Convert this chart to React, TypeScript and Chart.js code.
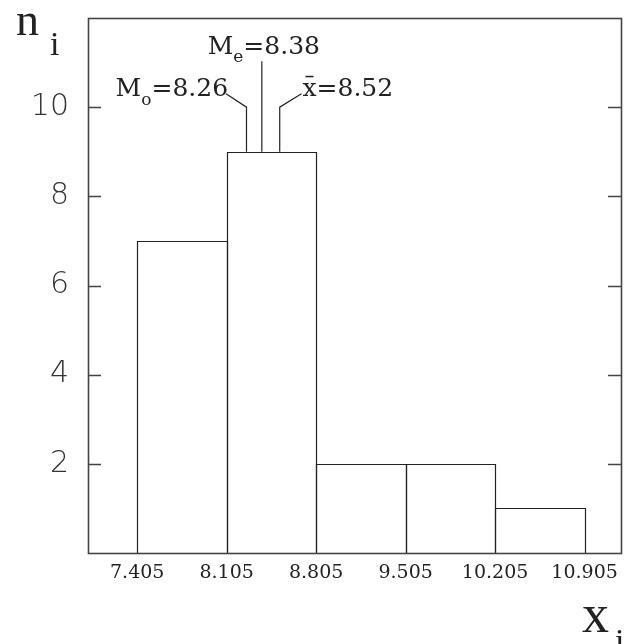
import React, { useEffect, useRef } from "react";
import { Chart, registerables } from "chart.js";

Chart.register(...registerables);

const binEdges = [7.405, 8.105, 8.805, 9.505, 10.205, 10.905];
const counts = [7, 9, 2, 2, 1];
const yTicks = [2, 4, 6, 8, 10];
const xRange = [7.02, 11.19];
const yRange = [0, 12];

const modeValue = 8.26;
const medianValue = 8.38;
const meanValue = 8.52;

const modeLeader = [
  { x: modeValue, y: 9 },
  { x: modeValue, y: 10 },
  { x: 8.1, y: 10.3 },
];
const medianLeader = [
  { x: medianValue, y: 9 },
  { x: medianValue, y: 11.03 },
];
const meanLeader = [
  { x: meanValue, y: 9 },
  { x: meanValue, y: 10 },
  { x: 8.69, y: 10.3 },
];

const LINE = "#222";
const FRAME = "#444";
const SANS = "'DejaVu Sans', sans-serif";
const SERIF = "'DejaVu Serif', serif";
const TITLE_SERIF = "'Liberation Serif', serif";

function drawSubLabel(
  ctx: CanvasRenderingContext2D,
  main: string,
  sub: string,
  rest: string,
  x: number,
  y: number,
  align: "left" | "right" | "center",
  subDrop: number,
  bar = false
) {
  const big = `25px ${SERIF}`;
  const small = `17px ${SERIF}`;
  ctx.font = big;
  const w1 = ctx.measureText(main).width;
  ctx.font = small;
  const w2 = ctx.measureText(sub).width;
  ctx.font = big;
  const w3 = ctx.measureText(rest).width;
  const total = w1 + w2 + w3;
  let x0 = x;
  if (align === "right") x0 = x - total;
  if (align === "center") x0 = x - total / 2;
  ctx.textAlign = "left";
  ctx.textBaseline = "alphabetic";
  ctx.fillStyle = LINE;
  ctx.font = big;
  ctx.fillText(main, x0, y);
  if (bar) {
    ctx.fillRect(x0 + 3, y - 20, w1 - 6, 1.5);
  }
  ctx.font = small;
  ctx.fillText(sub, x0 + w1, y + subDrop);
  ctx.font = big;
  ctx.fillText(rest, x0 + w1 + w2, y);
}

const decorPlugin = {
  id: "decor",
  afterDatasetsDraw(chart: any) {
    const ctx = chart.ctx as CanvasRenderingContext2D;
    const meta = chart.getDatasetMeta(0);
    ctx.save();
    ctx.strokeStyle = LINE;
    ctx.lineWidth = 1.2;
    meta.data.forEach((bar: any) => {
      const p = bar.getProps(["x", "y", "base", "width"], true);
      const l = Math.round(p.x - p.width / 2) + 0.5;
      const r = Math.round(p.x + p.width / 2) + 0.5;
      const t = Math.round(p.y) + 0.5;
      const b = Math.round(p.base) + 0.5;
      ctx.beginPath();
      ctx.moveTo(l, b);
      ctx.lineTo(l, t);
      ctx.lineTo(r, t);
      ctx.lineTo(r, b);
      ctx.stroke();
    });
    ctx.restore();
  },
  afterDraw(chart: any) {
    const ctx = chart.ctx as CanvasRenderingContext2D;
    const { left, right, top, bottom } = chart.chartArea;
    const xs = chart.scales.x;
    const ys = chart.scales.y;
    ctx.save();
    ctx.strokeStyle = FRAME;
    ctx.lineWidth = 1.6;
    ctx.strokeRect(Math.round(left) + 0.5, Math.round(top) + 0.5, Math.round(right - left), Math.round(bottom - top));
    ctx.beginPath();
    yTicks.forEach((v) => {
      const py = Math.round(ys.getPixelForValue(v)) + 0.5;
      ctx.moveTo(left, py);
      ctx.lineTo(left + 13, py);
      ctx.moveTo(right, py);
      ctx.lineTo(right - 13, py);
    });
    ctx.stroke();

    // stat labels
    const mEnd = modeLeader[modeLeader.length - 1];
    drawSubLabel(ctx, "M", "o", "=8.26", xs.getPixelForValue(mEnd.x) + 2, ys.getPixelForValue(mEnd.y) + 2, "right", 9);
    const meEnd = medianLeader[medianLeader.length - 1];
    drawSubLabel(ctx, "M", "e", "=8.38", xs.getPixelForValue(meEnd.x) + 2, ys.getPixelForValue(meEnd.y) - 7, "center", 8);
    const aEnd = meanLeader[meanLeader.length - 1];
    drawSubLabel(ctx, "x", "", "=8.52", xs.getPixelForValue(aEnd.x) + 1, ys.getPixelForValue(aEnd.y) + 2, "left", 0, true);

    // axis titles
    ctx.fillStyle = LINE;
    ctx.textAlign = "left";
    ctx.textBaseline = "alphabetic";
    ctx.font = `46px ${TITLE_SERIF}`;
    ctx.fillText("n", 16, 35);
    ctx.font = `34px ${TITLE_SERIF}`;
    ctx.fillText("i", 50, 55);
    ctx.font = `54px ${TITLE_SERIF}`;
    ctx.fillText("x", 582, 632);
    ctx.font = `34px ${TITLE_SERIF}`;
    ctx.fillText("i", 615, 652);
    ctx.restore();
  },
};

export default function App() {
  const ref = useRef<HTMLCanvasElement | null>(null);
  useEffect(() => {
    if (!ref.current) return;
    const centers = counts.map((_, i) => (binEdges[i] + binEdges[i + 1]) / 2);
    const chart = new Chart(ref.current, {
      type: "bar",
      data: {
        datasets: [
          {
            type: "bar",
            data: centers.map((c, i) => ({ x: c, y: counts[i] })),
            backgroundColor: "rgba(255,255,255,0)",
            borderWidth: 0,
            barPercentage: 1,
            categoryPercentage: 1,
            order: 2,
          } as any,
          ...[modeLeader, medianLeader, meanLeader].map((d) => ({
            type: "line",
            data: d,
            borderColor: LINE,
            borderWidth: 1.2,
            pointRadius: 0,
            fill: false,
            tension: 0,
            order: 1,
          })),
        ] as any,
      },
      options: {
        responsive: false,
        animation: false,
        layout: { padding: { top: 18, right: 13, left: 0, bottom: 0 } },
        plugins: { legend: { display: false }, tooltip: { enabled: false } },
        scales: {
          x: {
            type: "linear",
            offset: false,
            min: xRange[0],
            max: xRange[1],
            grid: { display: false, offset: false, drawTicks: false },
            border: { display: false },
            afterBuildTicks: (s: any) => {
              s.ticks = binEdges.map((v) => ({ value: v }));
            },
            afterFit: (s: any) => {
              s.height = 91;
              s.paddingLeft = 0;
              s.paddingRight = 0;
            },
            ticks: {
              padding: 9,
              color: LINE,
              font: { family: SERIF, size: 19 },
              maxRotation: 0,
              autoSkip: false,
              callback: (v: any) => Number(v).toFixed(3),
            },
          },
          y: {
            type: "linear",
            min: yRange[0],
            max: yRange[1],
            grid: { display: false, drawTicks: false },
            border: { display: false },
            afterBuildTicks: (s: any) => {
              s.ticks = yTicks.map((v) => ({ value: v }));
            },
            afterFit: (s: any) => {
              s.width = 88;
              s.paddingTop = 0;
              s.paddingBottom = 0;
            },
            ticks: {
              padding: 19,
              color: "#333",
              font: { family: SANS, size: 30, weight: "200" },
              callback: (v: any) => String(v),
            },
          },
        },
      } as any,
      plugins: [decorPlugin],
    });
    return () => chart.destroy();
  }, []);
  return (
    <div style={{ position: "fixed", left: 0, top: 0, width: 634, height: 644, background: "#fff" }}>
      <canvas ref={ref} width={634} height={644} style={{ display: "block" }} />
    </div>
  );
}
